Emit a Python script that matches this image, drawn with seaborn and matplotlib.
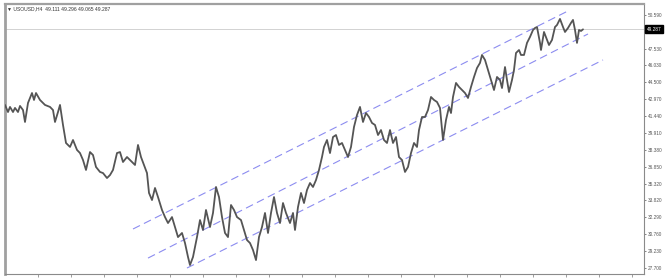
import matplotlib
matplotlib.use("Agg")
import matplotlib.pyplot as plt
import seaborn as sns
import pandas as pd

# ---- data ----
bars = [5, 8, 10, 13, 15, 18, 20, 23, 25, 28, 32, 34, 36, 40, 45, 50, 53, 55, 58, 60,
        63, 66, 70, 73, 77, 80, 83, 86, 90, 93, 96, 100, 103, 107, 110, 113, 117, 120, 123, 127,
        130, 135, 138, 141, 144, 147, 149, 152, 155, 158, 162, 165, 168, 172, 175, 178, 182, 185, 188, 190,
        193, 197, 200, 203, 206, 210, 213, 216, 219, 222, 225, 228, 231, 234, 237, 241, 244, 247, 250, 253,
        256, 259, 262, 265, 268, 271, 274, 277, 280, 283, 286, 290, 293, 295, 298, 301, 304, 307, 310, 313,
        316, 319, 322, 324, 327, 330, 333, 336, 339, 342, 345, 348, 351, 354, 357, 360, 363, 366, 369, 372,
        375, 378, 381, 384, 387, 390, 393, 396, 399, 402, 405, 408, 411, 414, 417, 419, 422, 425, 428, 431,
        434, 437, 440, 443, 446, 449, 451, 453, 456, 459, 462, 465, 468, 471, 474, 477, 480, 482, 485, 488,
        491, 494, 497, 500, 502, 505, 507, 509, 512, 514, 516, 519, 521, 524, 527, 530, 533, 535, 537, 540,
        541, 544, 547, 549, 552, 555, 557, 560, 563, 565, 568, 571, 573, 575, 577, 579, 581, 583]
close = [42.45, 41.81, 42.27, 41.81, 42.18, 41.81, 42.36, 41.99, 40.91, 42.63, 43.53, 42.90, 43.53, 42.90, 42.45, 42.27, 41.99, 40.91, 41.81, 42.45,
         40.64, 39.01, 38.65, 39.28, 38.38, 38.10, 37.47, 36.57, 38.19, 37.92, 36.84, 36.39, 36.29, 35.84, 36.11, 36.57, 38.10, 38.19, 37.29, 37.74,
         37.47, 37.02, 38.83, 37.74, 37.02, 36.29, 34.49, 33.85, 34.94, 34.12, 32.95, 32.31, 31.77, 32.31, 31.41, 30.50, 30.87, 29.96, 28.70, 27.97,
         28.70, 30.50, 32.04, 31.14, 32.95, 31.41, 32.68, 35.03, 34.12, 32.31, 30.87, 30.50, 33.40, 32.95, 32.31, 32.04, 31.14, 30.23, 29.96, 29.33,
         28.42, 30.50, 31.41, 32.68, 30.87, 32.68, 34.12, 32.68, 31.77, 33.58, 32.68, 31.77, 32.68, 31.14, 33.22, 34.49, 33.58, 34.76, 35.39, 35.03,
         35.66, 36.57, 37.74, 38.65, 39.28, 38.10, 39.55, 39.73, 38.83, 39.01, 38.38, 37.74, 38.65, 40.46, 41.54, 42.27, 40.91, 41.72, 41.36, 40.82,
         40.64, 39.73, 40.18, 39.28, 39.01, 40.18, 39.01, 39.55, 37.74, 37.47, 36.39, 36.84, 38.10, 39.01, 38.65, 40.18, 41.36, 41.36, 41.99, 43.17,
         42.90, 42.72, 42.18, 39.28, 41.09, 42.27, 41.72, 43.17, 44.44, 44.08, 43.80, 43.53, 43.08, 44.08, 44.98, 45.79, 46.25, 46.97, 46.52, 45.61,
         44.71, 43.80, 44.98, 44.71, 43.98, 45.88, 44.71, 43.62, 44.71, 45.61, 47.15, 47.42, 46.97, 46.97, 48.06, 48.60, 49.23, 49.41, 49.50, 48.06,
         47.42, 49.05, 48.33, 47.87, 48.33, 49.50, 49.68, 50.23, 49.50, 49.05, 49.41, 49.87, 50.14, 49.23, 48.06, 49.23, 49.14, 49.287]

# channel lines: (bar start, bar end), (price start, price end)
upper_bars, upper_prices = [133, 568], [31.23, 50.95]
middle_bars, middle_prices = [148, 588], [28.60, 48.87]
lower_bars, lower_prices = [187, 603], [27.70, 46.52]

price_ticks = [27.700, 29.230, 30.760, 32.290, 33.820, 35.320, 36.850, 38.380,
               39.910, 41.440, 42.970, 44.500, 46.030, 47.530, 50.590]
last_price = 49.287
header = "\u25BC USOUSD,H4  49.111 49.296 49.065 49.287"

# ---- drawing ----
sns.set_style("white")
plt.rcParams['font.family'] = ['Liberation Sans', 'DejaVu Sans']

W, H = 665, 279
fig = plt.figure(figsize=(W / 100, H / 100), dpi=100)
ax = fig.add_axes([5 / W, 5 / H, 639 / W, 270 / H])

ax.axhline(last_price, color="#d2d2d2", lw=0.7, zorder=1)

chan_color = "#8c8cf0"
for bx, py in [(upper_bars, upper_prices), (middle_bars, middle_prices), (lower_bars, lower_prices)]:
    sns.lineplot(x=bx, y=py, ax=ax, color=chan_color, lw=0.8,
                 linestyle=(0, (7, 4)), zorder=2)

df = pd.DataFrame({"bar": bars, "price": close})
sns.lineplot(data=df, x="bar", y="price", ax=ax, color="#555555", lw=1.3, zorder=3)

ax.set_xlim(5, 644)
ax.set_ylim(27.16, 51.58)
ax.set_xlabel("")
ax.set_ylabel("")

ax.yaxis.tick_right()
ax.set_yticks(price_ticks)
ax.set_yticklabels([f"{v:.3f}" for v in price_ticks])
ax.tick_params(axis="y", length=1.5, width=0.5, labelsize=3.4, colors="#555555", pad=1,
               left=False, right=True)
ax.set_xticks(list(range(5 + 33, 644, 33)))
ax.set_xticklabels([])
ax.tick_params(axis="x", length=2, width=0.5, colors="#777777", bottom=True, direction="out")

for side, sp in ax.spines.items():
    sp.set_visible(True)
    sp.set_color("#8a8a8a")
    sp.set_linewidth(0.8)
ax.spines["left"].set_linewidth(2.0)
ax.spines["left"].set_color("#a0a0a0")
ax.spines["top"].set_linewidth(1.6)
ax.spines["top"].set_color("#a0a0a0")

# current price box
ax.text(1.004, last_price, f"{last_price:.3f}", transform=ax.get_yaxis_transform(),
        ha="left", va="center", fontsize=3.4, color="white",
        bbox=dict(boxstyle="square,pad=0.3", fc="black", ec="black"))

fig.text(7 / W, 1 - 9 / H, header, fontsize=3.6, color="#333333", va="center", ha="left")

fig.savefig("out.png", dpi=100)
